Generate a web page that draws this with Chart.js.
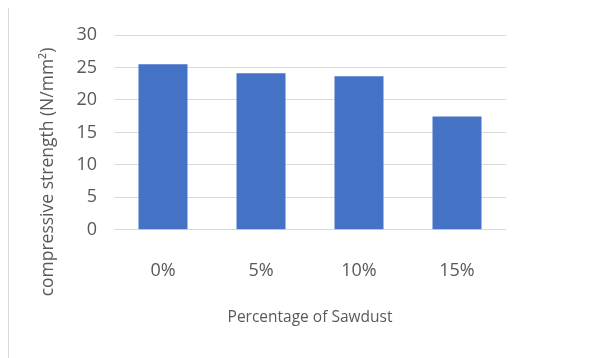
<!DOCTYPE html>
<html>
<head>
<meta charset="utf-8">
<script src="https://cdn.jsdelivr.net/npm/chart.js@4"></script>
<style>
  html, body { margin: 0; padding: 0; background: #fff; }
  #wrap { position: relative; width: 606px; height: 358px; }
  #edge { position: absolute; left: 8px; top: 8px; width: 0; height: 350px; border-left: 1px solid #d9d9d9; }
</style>
</head>
<body>
<div id="wrap">
  <div id="edge"></div>
  <canvas id="strength" width="606" height="358"></canvas>
</div>
<script>
// compressive strength vs sawdust content
const categories = ['0%', '5%', '10%', '15%'];
const strength = [25.5, 24.1, 23.65, 17.45];
const yTicks = [0, 5, 10, 15, 20, 25, 30];
const yTitle = 'compressive strength (N/mm²)';

const textColor = '#595959';
const gridColor = '#d9d9d9';

// y title is drawn by hand, Excel centers it lower than the plot area
const yTitlePlugin = {
    id: 'yTitle',
    afterDraw: (chart) => {
        const c = chart.ctx;
        c.save();
        c.translate(48, 172);
        c.rotate(-Math.PI / 2);
        c.font = '17.5px "Open Sans"';
        c.fillStyle = textColor;
        c.textAlign = 'center';
        c.textBaseline = 'middle';
        c.fillText(yTitle, 0, 0);
        c.restore();
    }
};

const ctx = document.getElementById('strength');
const chart = new Chart(ctx, {
    type: 'bar',
    data: {
        labels: categories,
        datasets: [{
            label: 'Compressive strength',
            data: strength,
            backgroundColor: '#4472c4',
            borderWidth: 0,
            categoryPercentage: 1,
            barPercentage: 0.5
        }]
    },
    options: {
        responsive: false,
        animation: false,
        layout: {
            padding: { left: 8, right: 100, top: 35, bottom: 31 }
        },
        plugins: {
            legend: { display: false },
            tooltip: { enabled: false }
        },
        scales: {
            x: {
                grid: { display: false },
                border: { display: false },
                ticks: {
                    color: textColor,
                    padding: 22,
                    font: { family: 'Open Sans', size: 18 }
                },
                title: {
                    display: true,
                    text: 'Percentage of Sawdust',
                    color: textColor,
                    padding: { top: 5, bottom: 0 },
                    font: { family: 'Open Sans', size: 15.5 }
                }
            },
            y: {
                min: 0,
                max: 30,
                afterBuildTicks: (scale) => {
                    scale.ticks = yTicks.map(v => ({ value: v }));
                },
                afterFit: (scale) => {
                    scale.width = 106;
                },
                grid: { color: gridColor, lineWidth: 1, drawTicks: false },
                border: { display: false },
                ticks: {
                    color: textColor,
                    padding: 17,
                    font: { family: 'Open Sans', size: 18 }
                }
            }
        }
    },
    plugins: [yTitlePlugin]
});
</script>
</body>
</html>
